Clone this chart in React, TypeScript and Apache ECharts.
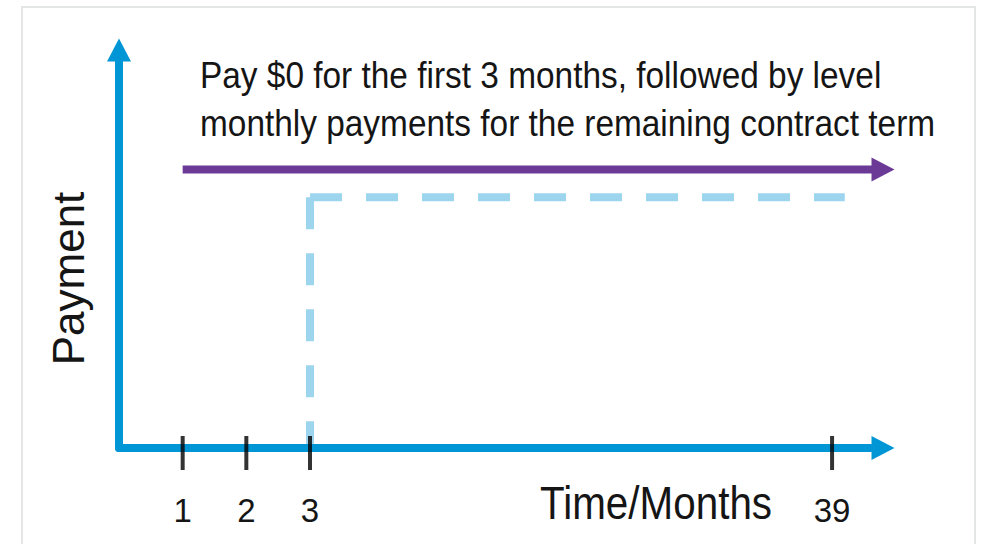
import React, { useEffect, useRef } from "react";
import * as echarts from "echarts";

// Schematic month positions on the time axis and their labels
const tickPositions = [1, 2, 3, 11.2];
const tickLabels = ["1", "2", "3", "39"];

// Purple arrow: plan line
const planX = [1, 12];
const planY = [7, 7];

// Dashed step: $0 for first 3 months then level payments
const paymentX = [3, 3, 11.4];
const paymentY = [0, 6.3, 6.3];

const titleLines = [
  "Pay $0 for the first 3 months, followed by level",
  "monthly payments for the remaining contract term",
];
const xAxisTitle = "Time/Months";
const yAxisTitle = "Payment";

const BLUE = "#0096d6";
const LIGHT_BLUE = "#9dd5ef";
const PURPLE = "#6b3a97";
const INK = "#151515";
const FONT = "'Liberation Sans', Arial, sans-serif";

export default function App() {
  const ref = useRef<HTMLDivElement>(null);

  useEffect(() => {
    if (!ref.current) return;
    const chart = echarts.init(ref.current, undefined, { renderer: "svg" });

    const vertical = [
      [paymentX[1], paymentY[1]],
      [paymentX[0], paymentY[0]],
    ];
    const horizontal = [
      [paymentX[1], paymentY[1]],
      [paymentX[2], paymentY[2]],
    ];
    const plan = planX.map((x, i) =>
      i === planX.length - 1
        ? { value: [x, planY[i]], symbol: "triangle", symbolRotate: -90, symbolSize: [24, 23] }
        : { value: [x, planY[i]], symbol: "none" }
    );

    const textStyle = (extra: any) => ({
      fill: INK,
      fontFamily: FONT,
      ...extra,
    });

    chart.setOption({
      animation: false,
      backgroundColor: "#ffffff",
      grid: { left: 119, top: 50, width: 764, height: 398 },
      xAxis: {
        type: "value",
        min: 0,
        max: 12,
        z: 2,
        axisLine: {
          show: true,
          symbol: ["none", "triangle"],
          symbolSize: [24, 23],
          lineStyle: { color: BLUE, width: 8 },
        },
        axisTick: { show: false },
        splitLine: { show: false },
        axisLabel: {
          show: true,
          customValues: tickPositions,
          formatter: (v: number) => {
            const i = tickPositions.indexOf(v);
            return i >= 0 ? tickLabels[i] : "";
          },
          margin: 62,
          verticalAlign: "middle",
          fontSize: 33,
          fontFamily: FONT,
          color: INK,
        },
      },
      yAxis: {
        type: "value",
        min: 0,
        max: 10,
        z: 2,
        axisLine: {
          show: true,
          symbol: ["none", "triangle"],
          symbolSize: [24, 23],
          lineStyle: { color: BLUE, width: 8 },
        },
        axisTick: { show: false },
        splitLine: { show: false },
        axisLabel: { show: false },
      },
      series: [
        {
          type: "line",
          data: vertical,
          symbol: "none",
          z: 1,
          lineStyle: { color: LIGHT_BLUE, width: 8, type: [32, 24], cap: "butt" },
        },
        {
          type: "line",
          data: horizontal,
          symbol: "none",
          z: 1,
          lineStyle: { color: LIGHT_BLUE, width: 8, type: [32, 24], cap: "butt" },
        },
        {
          type: "line",
          data: plan,
          symbol: "triangle",
          showSymbol: true,
          z: 3,
          itemStyle: { color: PURPLE, borderWidth: 0 },
          lineStyle: { color: PURPLE, width: 8, cap: "butt" },
        },
        {
          type: "scatter",
          data: tickPositions.map((x) => [x, 0]),
          symbol: "rect",
          symbolSize: [4, 34],
          symbolOffset: [0, 5],
          z: 4,
          itemStyle: { color: "#000000" },
        },
      ],
      graphic: [
        {
          type: "rect",
          shape: { x: 22, y: 7, width: 953, height: 580 },
          style: { fill: "none", stroke: "#e4e6e6", lineWidth: 2 },
          z: -1,
          silent: true,
        },
        {
          type: "text",
          x: 200,
          y: 76,
          scaleX: 0.928,
          style: textStyle({
            text: titleLines[0],
            fontSize: 36,
            align: "left",
            verticalAlign: "middle",
            textAlign: "left",
            textVerticalAlign: "middle",
          }),
        },
        {
          type: "text",
          x: 200,
          y: 124,
          scaleX: 0.928,
          style: textStyle({
            text: titleLines[1],
            fontSize: 36,
            align: "left",
            verticalAlign: "middle",
            textAlign: "left",
            textVerticalAlign: "middle",
          }),
        },
        {
          type: "text",
          x: 540,
          y: 502,
          scaleX: 0.86,
          style: textStyle({
            text: xAxisTitle,
            fontSize: 47,
            align: "left",
            verticalAlign: "middle",
            textAlign: "left",
            textVerticalAlign: "middle",
          }),
        },
        {
          type: "text",
          x: 68,
          y: 278.5,
          rotation: Math.PI / 2,
          style: textStyle({
            text: yAxisTitle,
            fontSize: 44,
            align: "center",
            verticalAlign: "middle",
            textAlign: "center",
            textVerticalAlign: "middle",
          }),
        },
      ],
    });

    return () => chart.dispose();
  }, []);

  return (
    <div
      ref={ref}
      style={{ position: "fixed", left: 0, top: 0, width: 986, height: 544 }}
    />
  );
}
